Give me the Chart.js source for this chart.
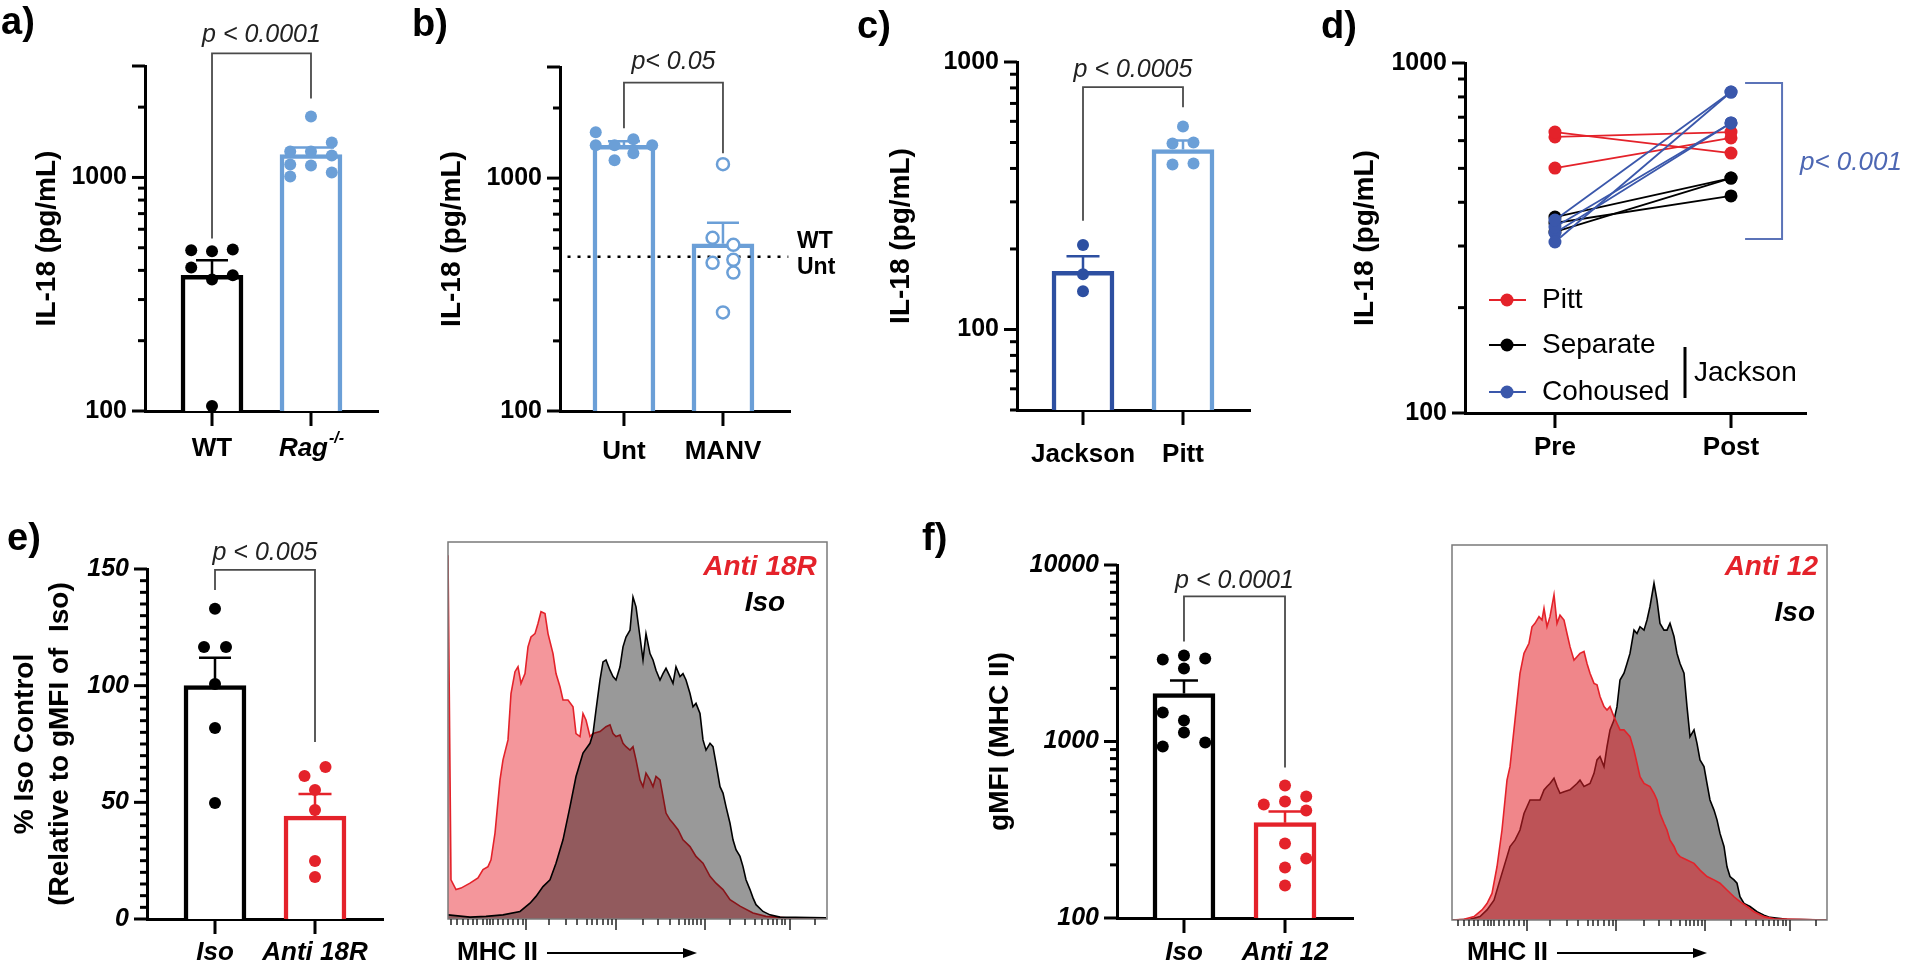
<!DOCTYPE html>
<html>
<head>
<meta charset="utf-8">
<title>IL-18 figure</title>
<script src="https://cdn.jsdelivr.net/npm/chart.js@4.4.1/dist/chart.umd.min.js"></script>
<style>
  html, body { margin: 0; padding: 0; background: #fff; }
  body { width: 1920px; height: 976px; position: relative; overflow: hidden; }
  canvas { position: absolute; }
</style>
</head>
<body>
<script>
const FONT = '"Liberation Sans", Arial, Helvetica, sans-serif';
const BLUE_L = '#6b9fd7';
const BLUE_D = '#2d4fa1';
const BLUE_M = '#3a57ab';
const RED = '#e4222a';
const GREY = '#4a4a4a';

// tick values
const ticks100to3000 = [100, 200, 300, 400, 500, 600, 700, 800, 900, 1000, 2000, 3000];
const ticks50to1000 = [50, 60, 70, 80, 90, 100, 200, 300, 400, 500, 600, 700, 800, 900, 1000];
const ticks100to1000 = [100, 200, 300, 400, 500, 600, 700, 800, 900, 1000];
const ticks100to10000 = [100, 200, 300, 400, 500, 600, 700, 800, 900, 1000, 2000, 3000, 4000, 5000, 6000, 7000, 8000, 9000, 10000];
const ticks0to150 = [0, 5, 10, 15, 20, 25, 30, 35, 40, 45, 50, 55, 60, 65, 70, 75, 80, 85, 90, 95, 100, 105, 110, 115, 120, 125, 130, 135, 140, 145, 150];

// a) IL-18, WT vs Rag-/-
const aLabels = ['WT', ''];
const aMeans = [381, 1253];
const aSemTop = [442, 1343];
const aWT = [488, 483, 492, 412, 366, 381, 105];
const aWTslot = [-1, 0, 1, -1, 0, 1, 0];
const aRag = [1824, 1291, 1291, 1412, 1137, 1125, 1241, 1009, 1050];
const aRagSlot = [0, -1, 0, 1, -1, 0, 1, -1, 1];

// b) untreated vs MANV
const bLabels = ['Unt', 'MANV'];
const bMeans = [1384, 522];
const bSemTop = [1440, 643];
const bUnt = [1574, 1384, 1384, 1468, 1384, 1194, 1279];
const bUntSlot = [-1.5, -1.5, -0.5, 0.5, 1.5, -0.5, 0.5];
const bManv = [1148, 554, 517, 433, 446, 393, 265];
const bManvSlot = [0, -1, 1, -1, 1, 1, 0];
const bWtUnt = 459;

// c) Jackson vs Pitt
const cLabels = ['Jackson', 'Pitt'];
const cMeans = [165, 471];
const cSemTop = [188, 509];
const cJackson = [207, 161, 139];
const cJacksonSlot = [0, 0, 0];
const cPitt = [574, 496, 500, 414, 417];
const cPittSlot = [0, -1, 1, -1, 1];

// d) pre / post cohousing
const dLabels = ['Pre', 'Post'];
const dPittPre = [635, 615, 501];
const dPittPost = [553, 635, 611];
const dSepPre = [363, 349, 329];
const dSepPost = [469, 417, 469];
const dCohPre = [308, 356, 340, 327];
const dCohPost = [826, 826, 674, 674];

// e) % Iso control
const eLabels = ['Iso', 'Anti 18R'];
const eMeans = [100, 44.1];
const eSemTop = [112, 53.6];
const eIso = [133, 116.6, 116.6, 100.7, 81.9, 49.7];
const eIsoSlot = [0, -1, 1, 0, 0, 0];
const eAnti = [61.3, 65.1, 55.3, 46.7, 24.9, 18];
const eAntiSlot = [-1, 1, 0, 0, 0, 0];

// e) histogram, MHC II (% of mode)
const eHistAntiX = [0, 3, 8, 13, 22, 30, 35, 40, 43, 47, 52, 55, 60, 63, 67, 70, 73, 77, 80, 83, 87, 90, 93, 97, 100, 105, 108, 112, 115, 120, 125, 128, 132, 135, 138, 142, 145, 152, 158, 162, 165, 168, 172, 175, 178, 182, 185, 188, 192, 195, 198, 202, 205, 208, 212, 215, 218, 222, 225, 230, 235, 242, 248, 255, 262, 268, 275, 282, 292, 305, 318, 338, 378];
const eHistAntiY = [96.5, 10.4, 7.8, 8.2, 9.5, 10.9, 13.1, 13.9, 15.7, 22.8, 36.9, 42.2, 47.5, 59.8, 65.6, 66.9, 62.5, 65.1, 72.2, 74.8, 75.7, 78.4, 81.5, 81.0, 75.7, 70.4, 65.1, 61.6, 58.1, 58.1, 56.3, 49.2, 48.4, 54.5, 52.8, 48.4, 49.2, 49.7, 51.0, 51.5, 49.2, 48.4, 48.8, 46.6, 45.7, 44.8, 45.7, 42.2, 36.9, 35.1, 38.7, 36.9, 35.1, 37.8, 36.9, 32.5, 28.1, 26.3, 25.4, 23.7, 21.0, 19.2, 16.6, 14.8, 11.3, 9.5, 7.8, 5.1, 3.4, 1.6, 0.7, 0.3, 0.3];
const eHistIsoX = [0, 22, 38, 55, 72, 82, 88, 95, 102, 108, 115, 122, 128, 135, 142, 145, 148, 152, 155, 158, 162, 165, 168, 172, 175, 178, 182, 185, 188, 192, 195, 198, 202, 205, 208, 212, 215, 218, 222, 225, 228, 232, 235, 238, 242, 245, 248, 252, 255, 258, 262, 265, 268, 272, 275, 278, 282, 285, 288, 292, 295, 298, 302, 305, 308, 315, 322, 332, 378];
const eHistIsoY = [1.1, 0.5, 0.7, 1.1, 2.0, 4.2, 6.0, 8.6, 10.4, 14.8, 21.0, 29.8, 37.8, 44.0, 46.6, 49.2, 55.4, 63.4, 68.2, 68.7, 66.0, 64.3, 63.4, 66.9, 72.2, 74.8, 76.6, 85.4, 82.8, 74.8, 68.7, 75.7, 70.4, 68.7, 66.0, 63.4, 65.1, 66.5, 64.3, 62.5, 66.9, 64.3, 65.1, 63.4, 59.8, 56.3, 57.2, 54.5, 47.5, 44.8, 46.6, 45.7, 41.3, 35.1, 33.4, 29.8, 25.4, 21.0, 18.4, 16.6, 13.9, 10.4, 7.8, 5.6, 3.8, 2.0, 1.1, 0.5, 0.3];
const eHistMajor = [78, 168, 257, 342];
const eHistMinor = [3, 9, 15, 20, 25, 29, 35, 39, 42, 45, 50, 55, 60, 65, 70, 75, 101, 118, 129, 139, 144, 149, 155, 160, 164, 195, 210, 222, 231, 237, 241, 245, 249, 253, 282, 297, 307, 314, 320, 325, 329, 334, 337, 367];

// f) gMFI (MHC II)
const fLabels = ['Iso', 'Anti 12'];
const fMeans = [1871, 347];
const fSemTop = [2217, 401];
const fIso = [2917, 3067, 2951, 2594, 1460, 1315, 1125, 937, 987];
const fIsoSlot = [-1, 0, 1, 0, -1, 0, 0, -1, 1];
const fAnti = [563, 440, 457, 488, 406, 264, 217, 193, 153];
const fAntiSlot = [0, -1, 0, 1, 1, 0, 1, 0, 0];

// f) histogram
const fHistAntiX = [0, 12, 22, 30, 35, 40, 45, 50, 55, 58, 63, 68, 72, 77, 80, 83, 87, 90, 92, 95, 98, 102, 105, 108, 112, 115, 118, 122, 125, 128, 132, 135, 138, 142, 145, 148, 152, 155, 158, 162, 165, 168, 172, 175, 178, 182, 185, 188, 192, 198, 202, 205, 208, 212, 215, 218, 222, 225, 228, 235, 242, 248, 255, 262, 268, 275, 282, 288, 295, 302, 312, 322, 375];
const fHistAntiY = [0, 0.2, 0.9, 2.7, 4.4, 7.1, 14.2, 24.0, 37.3, 40.9, 53.3, 65.8, 71.1, 73.8, 78.2, 79.1, 80.9, 80.0, 83.1, 78.2, 80.9, 86.7, 79.1, 81.3, 80.0, 76.4, 72.9, 69.3, 70.2, 71.1, 71.6, 68.4, 65.8, 63.1, 62.7, 59.6, 56.9, 56.0, 56.9, 54.2, 52.4, 50.7, 50.7, 49.8, 48.9, 45.3, 41.8, 38.2, 36.4, 35.6, 33.8, 32.0, 28.4, 25.8, 24.0, 21.3, 19.6, 17.8, 16.9, 16.0, 15.1, 13.3, 11.6, 10.7, 9.8, 8.0, 6.2, 4.9, 3.6, 2.2, 0.9, 0.3, 0];
const fHistIsoX = [0, 18, 28, 35, 42, 48, 55, 58, 63, 68, 72, 75, 78, 85, 88, 92, 95, 98, 102, 105, 108, 112, 118, 125, 128, 132, 138, 142, 145, 148, 152, 155, 158, 162, 165, 168, 172, 175, 178, 182, 185, 188, 192, 195, 198, 202, 205, 208, 212, 215, 218, 222, 225, 228, 232, 235, 238, 242, 245, 248, 252, 255, 258, 262, 265, 268, 272, 275, 278, 282, 285, 288, 292, 298, 305, 312, 318, 335, 375];
const fHistIsoY = [0, 0.2, 0.9, 2.7, 5.3, 10.7, 16.9, 19.6, 21.3, 24.0, 28.4, 30.2, 32.0, 32.0, 32.0, 34.7, 35.6, 36.4, 37.8, 35.6, 33.8, 34.2, 34.7, 36.4, 37.3, 35.6, 36.4, 39.1, 42.7, 43.6, 40.9, 46.2, 50.7, 53.3, 56.9, 64.0, 65.8, 68.4, 71.1, 77.3, 76.4, 78.2, 77.3, 80.0, 83.6, 89.8, 85.3, 79.1, 77.3, 77.3, 79.1, 75.6, 71.1, 68.4, 65.8, 56.9, 48.9, 50.7, 47.1, 42.7, 40.9, 36.4, 32.0, 29.3, 26.7, 23.1, 19.6, 14.2, 11.6, 10.7, 9.8, 6.2, 4.4, 3.6, 2.2, 1.3, 0.7, 0.2, 0];
const fHistMajor = [75, 164, 253, 338];
const fHistMinor = [6, 12, 17, 22, 26, 32, 36, 39, 42, 47, 52, 57, 62, 67, 72, 98, 115, 126, 136, 141, 146, 152, 157, 161, 192, 207, 219, 228, 234, 238, 242, 246, 250, 279, 294, 304, 311, 317, 322, 326, 331, 334, 364];

Chart.defaults.font.family = FONT;
Chart.defaults.color = '#000';

const LETTER = 'bold 38px ' + FONT;

function bold(size, italic) {
  return {family: FONT, size: size, weight: 'bold', style: italic ? 'italic' : 'normal'};
}

function canvasAt(L, T, W, H) {
  const c = document.createElement('canvas');
  c.width = W; c.height = H;
  c.style.left = L + 'px'; c.style.top = T + 'px';
  c.style.width = W + 'px'; c.style.height = H + 'px';
  document.body.appendChild(c);
  return c.getContext('2d');
}

function drawTexts(ctx, list, L, T) {
  list.forEach(t => {
    ctx.save();
    ctx.font = t.font;
    ctx.fillStyle = t.color || '#000';
    ctx.textAlign = t.align || 'left';
    ctx.textBaseline = 'middle';
    ctx.fillText(t.text, t.x - L, t.y - T);
    ctx.restore();
  });
}

function tickMarks(chart, p) {
  const ctx = chart.ctx, xs = chart.scales.x, ys = chart.scales.y;
  ctx.save();
  ctx.strokeStyle = '#000';
  ctx.lineWidth = 3;
  p.yTicks.forEach(v => {
    const py = ys.getPixelForValue(v);
    const len = p.yLong.includes(v) ? 13 : 7;
    ctx.beginPath(); ctx.moveTo(ys.right - len, py); ctx.lineTo(ys.right, py); ctx.stroke();
  });
  p.labels.forEach((l, i) => {
    const px = xs.getPixelForValue(i);
    ctx.beginPath(); ctx.moveTo(px, xs.top); ctx.lineTo(px, xs.top + 15); ctx.stroke();
  });
  ctx.restore();
}

function errorBars(chart, p) {
  const ctx = chart.ctx, xs = chart.scales.x, ys = chart.scales.y;
  ctx.save();
  ctx.lineWidth = 2.5;
  p.means.forEach((m, i) => {
    const px = xs.getPixelForValue(i);
    const ym = ys.getPixelForValue(m), ye = ys.getPixelForValue(p.semTop[i]);
    ctx.strokeStyle = p.colors[i];
    ctx.beginPath();
    ctx.moveTo(px, ym); ctx.lineTo(px, ye);
    ctx.moveTo(px - p.caps[i] / 2, ye); ctx.lineTo(px + p.caps[i] / 2, ye);
    ctx.stroke();
  });
  ctx.restore();
}

function bracket(chart, b) {
  const ctx = chart.ctx, xs = chart.scales.x, ys = chart.scales.y;
  const x1 = xs.getPixelForValue(b.from), x2 = xs.getPixelForValue(b.to);
  const yt = ys.getPixelForValue(b.top);
  ctx.save();
  ctx.strokeStyle = GREY;
  ctx.lineWidth = 1.8;
  ctx.beginPath();
  ctx.moveTo(x1, ys.getPixelForValue(b.leftEnd));
  ctx.lineTo(x1, yt); ctx.lineTo(x2, yt);
  ctx.lineTo(x2, ys.getPixelForValue(b.rightEnd));
  ctx.stroke();
  ctx.font = 'italic 25px ' + FONT;
  ctx.fillStyle = '#222';
  ctx.textAlign = 'center';
  ctx.textBaseline = 'alphabetic';
  ctx.fillText(b.text, (x1 + x2) / 2, yt - b.gap);
  ctx.restore();
}

function axisOptions(p) {
  const [L, T, W, H] = p.box;
  const [x0, y0, x1, y1] = p.area;
  return {
    responsive: false, animation: false, devicePixelRatio: 1, events: [],
    layout: {padding: {left: 0, top: y0 - T, right: L + W - x1, bottom: 0}},
    plugins: {legend: {display: false}, tooltip: {enabled: false}},
    scales: {
      x: {
        type: 'linear', min: p.xMin, max: p.xMax, offset: false,
        afterFit: s => { s.height = T + H - y1; },
        afterBuildTicks: s => { s.ticks = p.labels.map((l, i) => ({value: i})); },
        grid: {display: false, drawTicks: false},
        border: {display: true, width: 3, color: '#000'},
        ticks: {autoSkip: false, maxRotation: 0, padding: p.xPad, color: '#000',
                font: bold(26, p.xItalic), callback: (v, i) => p.labels[i]}
      },
      y: {
        type: p.yType, min: p.yMin, max: p.yMax,
        afterFit: s => { s.width = x0 - L; },
        afterBuildTicks: s => { s.ticks = p.yTicks.map(v => ({value: v})); },
        grid: {display: false, drawTicks: false},
        border: {display: true, width: 3, color: '#000'},
        ticks: {autoSkip: false, padding: 18, color: '#000', font: bold(25, p.yItalic),
                callback: v => (p.yLabeled.includes(v) ? String(v) : '')},
        title: {display: true, text: p.yTitle, color: '#000',
                font: {family: FONT, size: 28, weight: 'bold', lineHeight: p.titleLH || 1.2},
                padding: {top: p.titlePad, bottom: 0}}
      }
    }
  };
}

function barPanel(p) {
  const [L, T, W, H] = p.box;
  const ctx = canvasAt(L, T, W, H);
  const datasets = [{
    type: 'bar',
    data: p.means.map((v, i) => ({x: i, y: v})),
    backgroundColor: '#fff',
    borderColor: p.colors,
    borderWidth: 4.5,
    borderSkipped: 'bottom',
    barThickness: 62,
    order: 3
  }];
  p.groups.forEach(g => datasets.push({
    type: 'scatter',
    data: g.values.map((v, i) => ({x: g.at + g.slots[i] * g.spread, y: v})),
    pointRadius: 6,
    pointBackgroundColor: g.open ? '#fff' : g.color,
    pointBorderColor: g.color,
    pointBorderWidth: g.open ? 2.5 : 0,
    clip: false,
    order: 1
  }));
  (p.refLines || []).forEach(r => datasets.push({
    type: 'line',
    data: [{x: r.from, y: r.value}, {x: r.to, y: r.value}],
    borderColor: '#000', borderWidth: 2.5, borderDash: [3, 7],
    pointRadius: 0, order: 2
  }));
  new Chart(ctx, {
    type: 'bar',
    data: {datasets: datasets},
    options: axisOptions(p),
    plugins: [{
      id: 'deco',
      afterDatasetDraw(chart, args) { if (args.index === 0) errorBars(chart, p); },
      afterDraw(chart) {
        tickMarks(chart, p);
        bracket(chart, p.bracket);
        drawTexts(chart.ctx, p.texts, L, T);
        if (p.extra) p.extra(chart, L, T);
      }
    }]
  });
}

function superLabel(chart, at, base, sup, yPage, T) {
  const ctx = chart.ctx, xs = chart.scales.x;
  const f1 = 'italic bold 26px ' + FONT, f2 = 'italic bold 16px ' + FONT;
  ctx.save();
  ctx.fillStyle = '#000';
  ctx.textBaseline = 'middle';
  ctx.textAlign = 'left';
  ctx.font = f1; const w1 = ctx.measureText(base).width;
  ctx.font = f2; const w2 = ctx.measureText(sup).width;
  const x = xs.getPixelForValue(at) - (w1 + w2) / 2;
  ctx.font = f1; ctx.fillText(base, x, yPage - T);
  ctx.font = f2; ctx.fillText(sup, x + w1 + 1, yPage - T - 10);
  ctx.restore();
}

function histPanel(p) {
  const [L, T, W, H] = p.box;
  const [x0, y0, x1, y1] = p.area;
  const ctx = canvasAt(L, T, W, H);
  new Chart(ctx, {
    type: 'line',
    data: {
      datasets: p.layers.map(l => ({
        data: l.x.map((v, i) => ({x: v, y: l.y[i]})),
        borderColor: l.line, backgroundColor: l.fill, borderWidth: 1.6,
        fill: 'origin', pointRadius: 0, tension: 0, order: l.order
      }))
    },
    options: {
      responsive: false, animation: false, devicePixelRatio: 1, events: [],
      layout: {padding: {left: x0 - L, top: y0 - T, right: L + W - x1, bottom: T + H - y1}},
      plugins: {legend: {display: false}, tooltip: {enabled: false}},
      scales: {
        x: {type: 'linear', display: false, min: 0, max: p.xMax},
        y: {type: 'linear', display: false, min: 0, max: 100}
      }
    },
    plugins: [{
      id: 'histDeco',
      afterDraw(chart) {
        const c = chart.ctx, a = chart.chartArea, xs = chart.scales.x;
        c.save();
        c.strokeStyle = '#7a7a7a';
        c.lineWidth = 1.5;
        c.strokeRect(a.left, a.top, a.right - a.left, a.bottom - a.top);
        c.strokeStyle = '#222';
        c.lineWidth = 1.5;
        p.major.forEach(v => {
          const px = xs.getPixelForValue(v);
          c.beginPath(); c.moveTo(px, a.bottom); c.lineTo(px, a.bottom + 11); c.stroke();
        });
        p.minor.forEach(v => {
          const px = xs.getPixelForValue(v);
          c.beginPath(); c.moveTo(px, a.bottom); c.lineTo(px, a.bottom + 6); c.stroke();
        });
        // arrow
        const [ax1, ax2, ay] = p.arrow;
        c.strokeStyle = '#000';
        c.lineWidth = 2;
        c.beginPath(); c.moveTo(ax1 - L, ay - T); c.lineTo(ax2 - L - 8, ay - T); c.stroke();
        c.fillStyle = '#000';
        c.beginPath();
        c.moveTo(ax2 - L, ay - T); c.lineTo(ax2 - L - 14, ay - T - 5); c.lineTo(ax2 - L - 14, ay - T + 5);
        c.closePath(); c.fill();
        c.restore();
        drawTexts(c, p.texts, L, T);
      }
    }]
  });
}

// ---------- panel a
barPanel({
  box: [0, 0, 440, 480], area: [145, 66, 378, 411],
  xMin: -0.677, xMax: 1.677,
  yType: 'logarithmic', yMin: 100, yMax: 3000, yTicks: ticks100to3000, yLong: [100, 1000, 3000], yLabeled: [100, 1000],
  yTitle: 'IL-18 (pg/mL)', titlePad: 30,
  labels: aLabels, xPad: 22,
  means: aMeans, semTop: aSemTop, colors: ['#000', BLUE_L], caps: [32, 46],
  groups: [
    {at: 0, values: aWT, slots: aWTslot, spread: 0.21, color: '#000'},
    {at: 1, values: aRag, slots: aRagSlot, spread: 0.21, color: BLUE_L}
  ],
  bracket: {from: 0, to: 1, top: 3400, leftEnd: 548, rightEnd: 2178, text: 'p < 0.0001', gap: 11},
  texts: [{text: 'a)', x: 1, y: 24, font: LETTER}],
  extra: (chart, L, T) => superLabel(chart, 1, 'Rag', '-/-', 449, T)
});

// ---------- panel b
barPanel({
  box: [400, 0, 470, 480], area: [560, 67, 790, 411],
  xMin: -0.646, xMax: 1.677,
  yType: 'logarithmic', yMin: 100, yMax: 3000, yTicks: ticks100to3000, yLong: [100, 1000, 3000], yLabeled: [100, 1000],
  yTitle: 'IL-18 (pg/mL)', titlePad: 35,
  labels: bLabels, xPad: 25,
  means: bMeans, semTop: bSemTop, colors: [BLUE_L, BLUE_L], caps: [32, 32],
  groups: [
    {at: 0, values: bUnt, slots: bUntSlot, spread: 0.19, color: BLUE_L},
    {at: 1, values: bManv, slots: bManvSlot, spread: 0.105, color: BLUE_L, open: true}
  ],
  refLines: [{value: bWtUnt, from: -0.57, to: 1.66}],
  bracket: {from: 0, to: 1, top: 2570, leftEnd: 1637, rightEnd: 1279, text: 'p< 0.05', gap: 14},
  texts: [
    {text: 'b)', x: 412, y: 26, font: LETTER},
    {text: 'WT', x: 797, y: 242, font: 'bold 23px ' + FONT},
    {text: 'Unt', x: 797, y: 268, font: 'bold 23px ' + FONT}
  ]
});

// ---------- panel c
barPanel({
  box: [850, 0, 440, 480], area: [1017, 62, 1250, 410],
  xMin: -0.66, xMax: 1.67,
  yType: 'logarithmic', yMin: 50, yMax: 1000, yTicks: ticks50to1000, yLong: [100, 1000], yLabeled: [100, 1000],
  yTitle: 'IL-18 (pg/mL)', titlePad: 34,
  labels: cLabels, xPad: 29,
  means: cMeans, semTop: cSemTop, colors: [BLUE_D, BLUE_L], caps: [33, 28],
  groups: [
    {at: 0, values: cJackson, slots: cJacksonSlot, spread: 0.105, color: BLUE_D},
    {at: 1, values: cPitt, slots: cPittSlot, spread: 0.105, color: BLUE_L}
  ],
  bracket: {from: 0, to: 1, top: 806, leftEnd: 255, rightEnd: 677, text: 'p < 0.0005', gap: 10},
  texts: [{text: 'c)', x: 857, y: 28, font: LETTER}]
});

// ---------- panel d
(function () {
  const p = {
    box: [1310, 0, 610, 480], area: [1465, 63, 1806, 413],
    xMin: -0.511, xMax: 1.426,
    yType: 'logarithmic', yMin: 100, yMax: 1000, yTicks: ticks100to1000, yLong: [100, 1000], yLabeled: [100, 1000],
    yTitle: 'IL-18 (pg/mL)', titlePad: 38,
    labels: dLabels, xPad: 19
  };
  const [L, T, W, H] = p.box;
  const groups = [
    {pre: dCohPre, post: dCohPost, color: BLUE_M, order: 1},
    {pre: dSepPre, post: dSepPost, color: '#000', order: 2},
    {pre: dPittPre, post: dPittPost, color: RED, order: 3}
  ];
  const datasets = [];
  groups.forEach(g => g.pre.forEach((v, i) => datasets.push({
    data: [{x: 0, y: v}, {x: 1, y: g.post[i]}],
    borderColor: g.color, borderWidth: 1.8,
    pointRadius: 6.5, pointBackgroundColor: g.color, pointBorderWidth: 0,
    clip: false, order: g.order
  })));
  const legend = [
    {label: 'Pitt', color: RED, y: 300},
    {label: 'Separate', color: '#000', y: 345},
    {label: 'Cohoused', color: BLUE_M, y: 392}
  ];
  new Chart(canvasAt(L, T, W, H), {
    type: 'line',
    data: {datasets: datasets},
    options: axisOptions(p),
    plugins: [{
      id: 'dDeco',
      afterDraw(chart) {
        const c = chart.ctx, xs = chart.scales.x, ys = chart.scales.y;
        tickMarks(chart, p);
        c.save();
        legend.forEach(it => {
          c.strokeStyle = it.color; c.fillStyle = it.color; c.lineWidth = 1.8;
          c.beginPath(); c.moveTo(1489 - L, it.y - T); c.lineTo(1526 - L, it.y - T); c.stroke();
          c.beginPath(); c.arc(1507 - L, it.y - T, 6.5, 0, Math.PI * 2); c.fill();
          c.fillStyle = '#000'; c.font = '28px ' + FONT; c.textBaseline = 'middle';
          c.fillText(it.label, 1542 - L, it.y - T);
        });
        c.strokeStyle = '#000'; c.lineWidth = 3;
        c.beginPath(); c.moveTo(1685 - L, 347 - T); c.lineTo(1685 - L, 398 - T); c.stroke();
        c.font = '28px ' + FONT; c.fillText('Jackson', 1694 - L, 373 - T);
        // blue significance bracket
        const bx1 = xs.getPixelForValue(1.08), bx2 = xs.getPixelForValue(1.29);
        const bt = ys.getPixelForValue(877), bb = ys.getPixelForValue(314);
        c.strokeStyle = '#5b73b8'; c.lineWidth = 2;
        c.beginPath(); c.moveTo(bx1, bt); c.lineTo(bx2, bt); c.lineTo(bx2, bb); c.lineTo(bx1, bb); c.stroke();
        c.fillStyle = '#4d67b3'; c.font = 'italic 26px ' + FONT;
        c.fillText('p< 0.001', 1800 - L, 163 - T);
        c.restore();
        drawTexts(c, [{text: 'd)', x: 1321, y: 28, font: LETTER}], L, T);
      }
    }]
  });
})();

// ---------- panel e (bars)
barPanel({
  box: [0, 480, 430, 496], area: [147, 569, 383, 919],
  xMin: -0.68, xMax: 1.68,
  yType: 'linear', yMin: 0, yMax: 150, yTicks: ticks0to150, yLong: [0, 50, 100, 150], yLabeled: [0, 50, 100, 150], yItalic: true,
  yTitle: ['% Iso Control', '(Relative to gMFI of  Iso)'], titlePad: 7.5, titleLH: 1.25,
  labels: eLabels, xPad: 18, xItalic: true,
  means: eMeans, semTop: eSemTop, colors: ['#000', RED], caps: [32, 33],
  groups: [
    {at: 0, values: eIso, slots: eIsoSlot, spread: 0.11, color: '#000'},
    {at: 1, values: eAnti, slots: eAntiSlot, spread: 0.105, color: RED}
  ],
  bracket: {from: 0, to: 1, top: 149.6, leftEnd: 141, rightEnd: 75.9, text: 'p < 0.005', gap: 10},
  texts: [{text: 'e)', x: 7, y: 540, font: LETTER}]
});

// ---------- panel e (histogram)
histPanel({
  box: [430, 480, 430, 496], area: [448, 542, 827, 919], xMax: 379,
  layers: [
    {x: eHistAntiX, y: eHistAntiY, line: RED, fill: 'rgba(232,32,42,0.47)', order: 2},
    {x: eHistIsoX, y: eHistIsoY, line: '#000', fill: 'rgba(0,0,0,0.4)', order: 1}
  ],
  major: eHistMajor, minor: eHistMinor,
  arrow: [547, 697, 953],
  texts: [
    {text: 'Anti 18R', x: 760, y: 567, font: 'italic bold 28px ' + FONT, color: RED, align: 'center'},
    {text: 'Iso', x: 765, y: 603, font: 'italic bold 28px ' + FONT, align: 'center'},
    {text: 'MHC II', x: 457, y: 953, font: 'bold 26px ' + FONT}
  ]
});

// ---------- panel f (bars)
barPanel({
  box: [900, 480, 480, 496], area: [1117, 565, 1353, 918],
  xMin: -0.663, xMax: 1.673,
  yType: 'logarithmic', yMin: 100, yMax: 10000, yTicks: ticks100to10000, yLong: [100, 1000, 10000], yLabeled: [100, 1000, 10000], yItalic: true,
  yTitle: 'gMFI (MHC II)', titlePad: 83,
  labels: fLabels, xPad: 19, xItalic: true,
  means: fMeans, semTop: fSemTop, colors: ['#000', RED], caps: [28, 33],
  groups: [
    {at: 0, values: fIso, slots: fIsoSlot, spread: 0.21, color: '#000'},
    {at: 1, values: fAnti, slots: fAntiSlot, spread: 0.21, color: RED}
  ],
  bracket: {from: 0, to: 1, top: 6637, leftEnd: 3688, rightEnd: 713, text: 'p < 0.0001', gap: 8},
  texts: [{text: 'f)', x: 922, y: 540, font: LETTER}]
});

// ---------- panel f (histogram)
histPanel({
  box: [1420, 480, 500, 496], area: [1452, 545, 1827, 920], xMax: 375,
  layers: [
    {x: fHistIsoX, y: fHistIsoY, line: '#000', fill: '#8f8f8f', order: 2},
    {x: fHistAntiX, y: fHistAntiY, line: RED, fill: 'rgba(228,34,42,0.55)', order: 1}
  ],
  major: fHistMajor, minor: fHistMinor,
  arrow: [1557, 1707, 953],
  texts: [
    {text: 'Anti 12', x: 1818, y: 567, font: 'italic bold 28px ' + FONT, color: RED, align: 'right'},
    {text: 'Iso', x: 1815, y: 613, font: 'italic bold 28px ' + FONT, align: 'right'},
    {text: 'MHC II', x: 1467, y: 953, font: 'bold 26px ' + FONT}
  ]
});
</script>
</body>
</html>
